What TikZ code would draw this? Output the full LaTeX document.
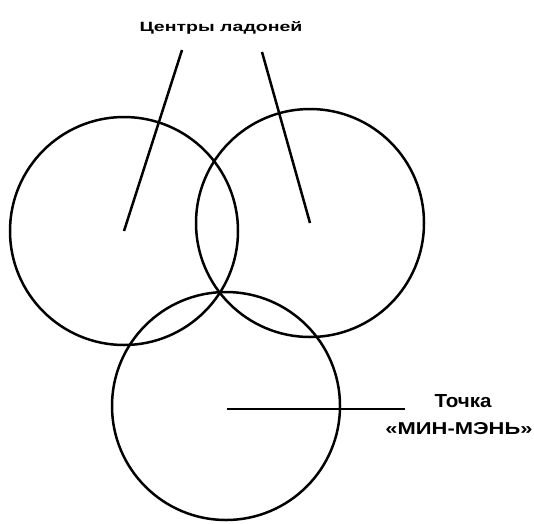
\documentclass[tikz,border=0pt]{standalone}
\usepackage{fontspec}
\setmainfont{Liberation Sans}
\begin{document}
\begin{tikzpicture}[x=1pt,y=-1pt,
  ring/.style={circle,draw,line width=2.5pt,minimum size=228pt,inner sep=0pt},
  lead/.style={line width=2.5pt},
  lbl/.style={inner sep=0pt,font=\bfseries}]
\useasboundingbox (0,0) rectangle (534,523);
\node[ring] (L) at (124,231) {};
\node[ring] (R) at (310,223) {};
\node[ring] (B) at (226,406) {};
\node[lbl] (top) at (221,28) {\resizebox{163pt}{10pt}{Центры ладоней}};
\coordinate (lt) at (182,50);
\coordinate (rt) at (262,52);
\draw[lead] (lt) -- (L.center);
\draw[lead] (rt) -- (R.center);
\node[lbl,anchor=base] (t1) at (463,407) {\resizebox{57pt}{13pt}{Точка}};
\node[lbl,anchor=base] (t2) at (459,434) {\resizebox{147pt}{12pt}{«МИН-МЭНЬ»}};
\coordinate (ls) at (227,409);
\coordinate (le) at (405,409);
\draw[lead] (ls) -- (le);
\end{tikzpicture}
\end{document}
